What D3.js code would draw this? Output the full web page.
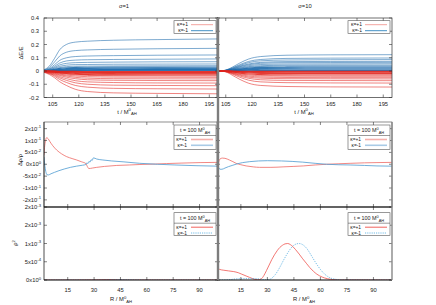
<!DOCTYPE html>
<html><head><meta charset="utf-8">
<script src="https://cdn.jsdelivr.net/npm/d3@7"></script>
<style>body{margin:0;background:#fff}svg{display:block}text{font-family:"Liberation Sans",Arial,sans-serif;fill:#222}</style>
</head><body><svg id="c" width="436" height="305"></svg>
<script>
// ---------- DATA ----------
const tSamples = [100,103,106,109,113,118,125,140,165,200];
// sigma = 1, kappa = -1 (blue) energy curves
const s1Blue = [
 [0.010,0.036,0.094,0.160,0.201,0.218,0.225,0.232,0.237,0.242],
 [0.007,0.026,0.067,0.113,0.142,0.154,0.159,0.164,0.168,0.171],
 [0.005,0.018,0.047,0.080,0.100,0.109,0.113,0.116,0.119,0.121],
 [0.004,0.014,0.035,0.060,0.076,0.082,0.085,0.087,0.089,0.091],
 [0.003,0.011,0.027,0.046,0.058,0.063,0.065,0.067,0.069,0.070],
 [0.002,0.008,0.021,0.035,0.044,0.048,0.049,0.051,0.052,0.053],
 [0.002,0.006,0.016,0.026,0.033,0.036,0.037,0.038,0.039,0.040],
 [0.001,0.005,0.012,0.020,0.025,0.027,0.028,0.029,0.029,0.030],
 [0.001,0.003,0.009,0.015,0.018,0.020,0.020,0.021,0.022,0.022],
 [0.001,0.002,0.006,0.011,0.013,0.014,0.015,0.015,0.016,0.016],
 [0.000,0.002,0.004,0.007,0.009,0.010,0.010,0.011,0.011,0.011],
 [0.000,0.001,0.003,0.005,0.006,0.006,0.007,0.007,0.007,0.007],
 [0.000,0.001,0.002,0.003,0.003,0.004,0.004,0.004,0.004,0.004]
];
// sigma = 1, kappa = +1 (red)
const s1Red = [
 [-0.010,-0.026,-0.050,-0.081,-0.110,-0.138,-0.155,-0.165,-0.169,-0.172],
 [-0.008,-0.020,-0.039,-0.064,-0.087,-0.109,-0.122,-0.131,-0.134,-0.136],
 [-0.007,-0.017,-0.032,-0.052,-0.071,-0.089,-0.100,-0.107,-0.109,-0.111],
 [-0.005,-0.014,-0.026,-0.043,-0.058,-0.073,-0.082,-0.087,-0.090,-0.091],
 [-0.004,-0.011,-0.021,-0.034,-0.047,-0.058,-0.066,-0.070,-0.072,-0.073],
 [-0.004,-0.009,-0.017,-0.028,-0.038,-0.048,-0.054,-0.058,-0.059,-0.060],
 [-0.003,-0.007,-0.014,-0.023,-0.031,-0.038,-0.043,-0.046,-0.047,-0.048],
 [-0.002,-0.006,-0.011,-0.018,-0.024,-0.030,-0.034,-0.036,-0.037,-0.038],
 [-0.002,-0.005,-0.009,-0.014,-0.019,-0.024,-0.027,-0.029,-0.030,-0.030],
 [-0.001,-0.003,-0.007,-0.011,-0.015,-0.018,-0.021,-0.022,-0.023,-0.023],
 [-0.001,-0.003,-0.005,-0.008,-0.011,-0.014,-0.015,-0.016,-0.017,-0.017],
 [-0.001,-0.002,-0.003,-0.006,-0.008,-0.010,-0.011,-0.012,-0.012,-0.012],
 [0.000,-0.001,-0.002,-0.004,-0.005,-0.006,-0.007,-0.008,-0.008,-0.008],
 [0.000,-0.001,-0.001,-0.002,-0.003,-0.003,-0.004,-0.004,-0.004,-0.004]
];
// sigma = 10, kappa = -1 (blue)
const s10Blue = [
 [0.005,0.002,0.012,0.031,0.060,0.090,0.109,0.119,0.122,0.123],
 [0.004,0.002,0.010,0.025,0.048,0.072,0.087,0.095,0.097,0.098],
 [0.003,0.002,0.009,0.022,0.042,0.063,0.077,0.083,0.085,0.086],
 [0.003,0.001,0.007,0.018,0.036,0.053,0.065,0.071,0.072,0.073],
 [0.003,0.001,0.007,0.016,0.032,0.047,0.058,0.063,0.064,0.065],
 [0.002,0.001,0.006,0.014,0.027,0.040,0.049,0.053,0.054,0.055],
 [0.002,0.001,0.005,0.011,0.022,0.033,0.040,0.044,0.045,0.045],
 [0.002,0.001,0.004,0.010,0.019,0.028,0.034,0.037,0.038,0.038],
 [0.001,0.001,0.003,0.008,0.015,0.022,0.027,0.029,0.030,0.030],
 [0.001,0.000,0.002,0.006,0.011,0.017,0.020,0.022,0.023,0.023],
 [0.001,0.000,0.002,0.004,0.007,0.011,0.013,0.015,0.015,0.015],
 [0.000,0.000,0.001,0.002,0.004,0.006,0.007,0.008,0.008,0.008],
 [0.000,0.000,0.000,0.001,0.001,0.002,0.003,0.003,0.003,0.003]
];
// sigma = 10, kappa = +1 (red)
const s10Red = [
 [-0.005,-0.002,-0.012,-0.034,-0.063,-0.092,-0.109,-0.117,-0.120,-0.121],
 [-0.004,-0.002,-0.009,-0.025,-0.047,-0.069,-0.082,-0.088,-0.090,-0.091],
 [-0.003,-0.001,-0.007,-0.020,-0.038,-0.055,-0.066,-0.071,-0.072,-0.073],
 [-0.002,-0.001,-0.006,-0.017,-0.031,-0.046,-0.054,-0.058,-0.059,-0.060],
 [-0.002,-0.001,-0.005,-0.014,-0.026,-0.038,-0.045,-0.049,-0.050,-0.050],
 [-0.002,-0.001,-0.004,-0.011,-0.021,-0.030,-0.036,-0.039,-0.040,-0.040],
 [-0.001,-0.001,-0.003,-0.008,-0.016,-0.023,-0.027,-0.029,-0.030,-0.030],
 [-0.001,0.000,-0.002,-0.006,-0.010,-0.015,-0.018,-0.019,-0.020,-0.020],
 [-0.001,0.000,-0.001,-0.004,-0.007,-0.010,-0.012,-0.013,-0.013,-0.013],
 [0.000,0.000,-0.001,-0.002,-0.004,-0.005,-0.006,-0.007,-0.007,-0.007],
 [0.000,0.000,0.000,-0.001,-0.002,-0.002,-0.003,-0.003,-0.003,-0.003]
];
// density contrast at t = 100
const rhoS1RedR = [1.5,1.8,2.4,3.0,3.8,4.9,6.5,8.7,11.5,14.4,17.5,20.1,23,25.3,26.2,27.0,29,31.5,36,42.9,50,56.1,65,71.3,80,90.3,100.5];
const rhoS1RedV = [0.04,0.07,0.1,0.112,0.108,0.095,0.078,0.06,0.044,0.032,0.024,0.018,0.01,0.003,-0.01,-0.018,-0.016,-0.013,-0.009,-0.005,-0.003,-0.001,0.001,0.003,0.005,0.007,0.008];
const rhoS1BlueR = [1.5,1.9,2.5,3.2,4.0,5.5,7.5,10,13,16.5,20,23.5,25.3,25.9,26.5,27.1,27.7,28.3,28.9,29.6,31.5,35,40,47,56,66,76,88,100.5];
const rhoS1BlueV = [0.03,0.0,-0.03,-0.044,-0.045,-0.04,-0.034,-0.027,-0.02,-0.013,-0.008,-0.004,-0.001,0.006,0.003,0.012,0.009,0.019,0.016,0.027,0.022,0.018,0.014,0.01,0.004,0.000,-0.003,-0.006,-0.008];
const rhoS10RedR = [1.5,1.7,2.0,2.5,3.2,4.5,6,8.5,10.5,12.3,15,18,22,25.6,32,38.9,45,50.3,57,63.5,70,76.8,85,92,100.5];
const rhoS10RedV = [-0.11,-0.07,-0.02,0.01,0.022,0.026,0.025,0.018,0.011,0.004,-0.002,-0.007,-0.011,-0.013,-0.013,-0.011,-0.009,-0.007,-0.003,0.000,0.002,0.004,0.006,0.007,0.008];
const rhoS10BlueR = [1.5,1.7,2.0,2.5,3.2,4.3,6,8,10.5,13,16,20,25,30,38,44,50,57,63.5,70,76.8,85,92,100.5];
const rhoS10BlueV = [0.09,0.05,0.005,-0.015,-0.021,-0.021,-0.016,-0.01,-0.004,0.002,0.007,0.011,0.014,0.015,0.014,0.012,0.009,0.004,0.000,-0.002,-0.003,-0.005,-0.007,-0.008];
// squared field at t = 100
const sqS1RedR = [1.5,20,30,34,37,40,44,50,100.5];
const sqS1RedV = [0,0,0.000004,0.000009,0.000012,0.000010,0.000005,0,0];
const sqS1BlueR = [1.5,28,38,42,45,48,52,58,100.5];
const sqS1BlueV = [0,0,0.000004,0.000009,0.000012,0.000010,0.000005,0,0];
const sqS10RedR = [1.5,3,5,8,11,13.5,15.5,18,20,22.5,24.5,26.5,28,29.5,31,32.5,34,35.5,37,38.5,40,41.5,43,44.5,46,48,50,52,54,56,58,61,64,67,70,100.5];
const sqS10RedV = [3.3e-4,2.9e-4,2.7e-4,2.5e-4,2.3e-4,2.0e-4,1.6e-4,1.1e-4,0.7e-4,0.25e-4,0.05e-4,0.3e-4,1.2e-4,2.6e-4,4.1e-4,5.6e-4,6.9e-4,8.0e-4,8.9e-4,9.5e-4,9.9e-4,10.0e-4,9.7e-4,9.1e-4,8.3e-4,7.1e-4,5.8e-4,4.6e-4,3.4e-4,2.4e-4,1.6e-4,0.8e-4,0.35e-4,0.12e-4,0.03e-4,0];
const sqS10BlueR = [1.5,5,9,11,15,20,24,27,29.5,31.5,33,34.5,36,37.5,39,40.5,42,43.5,45,46.5,48,49.5,51,52.5,54,55.5,57,58.5,60,62,64,66,68.5,72,100.5];
const sqS10BlueV = [0,0.02e-4,0.1e-4,0.25e-4,0.35e-4,0.4e-4,0.35e-4,0.15e-4,0.05e-4,0.2e-4,0.7e-4,1.5e-4,2.6e-4,3.9e-4,5.3e-4,6.6e-4,7.8e-4,8.8e-4,9.5e-4,9.9e-4,10.0e-4,9.8e-4,9.3e-4,8.5e-4,7.4e-4,6.2e-4,5.0e-4,3.9e-4,2.9e-4,1.8e-4,1.0e-4,0.5e-4,0.2e-4,0.03e-4,0];
// ticks and labels
const tTicks = [105,120,135,150,165,180,195];
const rTicks = [15,30,45,60,75,90];
const dETicks = [-0.2,-0.1,0,0.1,0.2,0.3,0.4];
const rhoTicks = [-0.15,-0.1,-0.05,0,0.05,0.1,0.15];
const sqTicks = [0,5e-4,1e-3,1.5e-3,2e-3];
const titles = ["σ=1","σ=10"];
const legendLabels = ["κ=+1","κ=-1"];

// ---------- LAYOUT ----------
const svg = d3.select("#c");
svg.append("rect").attr("width",436).attr("height",305).attr("fill","#fff");
const cols = [[44,218],[217,392]];
const rows = {top:[18,97.5], mid:[122,207], bot:[207,280]};
const FS = 5.8;
const C = {red:"#e2231c", blue:"#1a68aa"};

const xT = cols.map(c=>d3.scaleLinear().domain([100,200]).range(c));
const xR = cols.map(c=>d3.scaleLinear().domain([1.5,100.5]).range(c));
const yTop = d3.scaleLinear().domain([-0.2,0.4]).range([rows.top[1],rows.top[0]]);
const yMid = d3.scaleLinear().domain([-0.18,0.178]).range([rows.mid[1],rows.mid[0]]);
const yBot = d3.scaleLinear().domain([0,2e-3]).range([rows.bot[1],rows.bot[0]]);

function rich(sel, parts, fs){
  let cur=0;
  parts.forEach(p=>{
    const off = p.sup ? -fs*0.42 : (p.sub ? fs*0.3 : 0);
    const ts = sel.append("tspan").text(p.t).attr("dy",off-cur);
    if(p.sup||p.sub) ts.attr("font-size",fs*0.72);
    cur=off;
  });
}
function sci(v){
  if(v===0) return ["0","0"];
  const e=Math.floor(Math.log10(Math.abs(v))+1e-9);
  const m=+(v/Math.pow(10,e)).toFixed(6);
  return [String(Math.sign(m)*Math.round(Math.abs(m))), String(e)];
}
let clipId=0;
function clip(x0,x1,y0,y1){
  const id="cl"+(clipId++);
  svg.append("clipPath").attr("id",id).append("rect").attr("x",x0).attr("y",y0).attr("width",x1-x0).attr("height",y1-y0);
  return "url(#"+id+")";
}
function ticks(x, y, xt, yt, x0,x1,y0,y1){
  const g=svg.append("g").attr("stroke","#333").attr("stroke-width",0.6);
  xt.forEach(v=>{const px=x(v);
    g.append("line").attr("x1",px).attr("x2",px).attr("y1",y1).attr("y2",y1-3);
    g.append("line").attr("x1",px).attr("x2",px).attr("y1",y0).attr("y2",y0+3);});
  yt.forEach(v=>{const py=y(v);
    g.append("line").attr("x1",x0).attr("x2",x0+3).attr("y1",py).attr("y2",py);
    g.append("line").attr("x1",x1).attr("x2",x1-3).attr("y1",py).attr("y2",py);});
}

// ---------- TOP PANELS ----------
[[s1Blue,s1Red],[s10Blue,s10Red]].forEach((sets,i)=>{
  const [x0,x1]=cols[i], [y0,y1]=rows.top;
  const cp=clip(x0,x1,y0,y1);
  const g=svg.append("g").attr("clip-path",cp);
  const line=d3.line().x((d,k)=>xT[i](tSamples[k])).y(d=>yTop(d)).curve(d3.curveMonotoneX);
  const draw=(s,col)=>{const small=Math.abs(s[s.length-1])<0.032;
    g.append("path").attr("d",line(s)).attr("fill","none").attr("stroke",col)
     .attr("stroke-width",small?1.1:0.8).attr("stroke-opacity",small?0.85:0.7);};
  sets[0].forEach(s=>draw(s,C.blue));
  sets[1].forEach(s=>draw(s,C.red));
  svg.append("rect").attr("x",x0).attr("y",y0).attr("width",x1-x0).attr("height",y1-y0).attr("fill","none").attr("stroke","#333").attr("stroke-width",0.7);
  ticks(xT[i],yTop,tTicks,dETicks,x0,x1,y0,y1);
  tTicks.forEach(v=>svg.append("text").attr("x",xT[i](v)).attr("y",105.5).attr("text-anchor","middle").attr("font-size",FS).text(v));
  const xl=svg.append("text").attr("x",i?304:127).attr("y",113.5).attr("text-anchor","middle").attr("font-size",FS);
  rich(xl,[{t:"t / M"},{t:"0",sup:true},{t:"AH",sub:true}],FS);
  svg.append("text").attr("x",i?305:124).attr("y",7.5).attr("text-anchor","middle").attr("font-size",FS).text(titles[i]);
  // legend
  const bx=x1-44, by=20.7;
  svg.append("rect").attr("x",bx).attr("y",by).attr("width",42).attr("height",12.6).attr("fill","#fff").attr("stroke","#555").attr("stroke-width",0.6);
  [["#f29a94",0],["#2f86c0",1]].forEach(([col,k])=>{
    const yy=by+4+k*6;
    svg.append("text").attr("x",bx+14).attr("y",yy+1.7).attr("text-anchor","end").attr("font-size",5).text(legendLabels[k]);
    svg.append("line").attr("x1",bx+17).attr("x2",bx+39).attr("y1",yy).attr("y2",yy).attr("stroke",col).attr("stroke-width",0.9);
  });
});
dETicks.forEach(v=>svg.append("text").attr("x",39).attr("y",yTop(v)+2).attr("text-anchor","end").attr("font-size",FS).text(v===0?"0":v.toFixed(1)));
svg.append("text").attr("transform","translate(23,53) rotate(-90)").attr("text-anchor","middle").attr("font-size",FS).text("ΔE/E");

// ---------- MIDDLE & BOTTOM PANELS ----------
const midSets=[[[rhoS1RedR,rhoS1RedV],[rhoS1BlueR,rhoS1BlueV]],[[rhoS10RedR,rhoS10RedV],[rhoS10BlueR,rhoS10BlueV]]];
const botSets=[[[sqS1RedR,sqS1RedV],[sqS1BlueR,sqS1BlueV]],[[sqS10RedR,sqS10RedV],[sqS10BlueR,sqS10BlueV]]];
function legendT(bx,by,h,styles){
  svg.append("rect").attr("x",bx).attr("y",by).attr("width",42).attr("height",h).attr("fill","#fff").attr("stroke","#555").attr("stroke-width",0.6);
  const t=svg.append("text").attr("x",bx+21).attr("y",by+7.3).attr("text-anchor","middle").attr("font-size",5.4);
  rich(t,[{t:"t = 100 M"},{t:"0",sup:true},{t:"AH",sub:true}],5.4);
  svg.append("line").attr("x1",bx).attr("x2",bx+42).attr("y1",by+10.5).attr("y2",by+10.5).attr("stroke","#555").attr("stroke-width",0.6);
  styles.forEach((st,k)=>{
    const yy=by+14.5+k*5.8;
    svg.append("text").attr("x",bx+13).attr("y",yy+1.6).attr("text-anchor","end").attr("font-size",4.8).text(legendLabels[k]);
    const l=svg.append("line").attr("x1",bx+17).attr("x2",bx+39).attr("y1",yy).attr("y2",yy).attr("stroke",st[0]).attr("stroke-width",st[1]);
    if(st[2]) l.attr("stroke-dasharray",st[2]);
  });
}
[0,1].forEach(i=>{
  const [x0,x1]=cols[i];
  let [y0,y1]=rows.mid;
  let g=svg.append("g").attr("clip-path",clip(x0,x1,y0,y1));
  const lm=d3.line().x(d=>xR[i](d[0])).y(d=>yMid(d[1])).curve(d3.curveMonotoneX);
  [["#ee6a64"],["#4d9ad0"]].forEach(([col],k)=>{
    const [R,V]=midSets[i][k];
    g.append("path").attr("d",lm(R.map((r,j)=>[r,V[j]]))).attr("fill","none").attr("stroke",col).attr("stroke-width",0.8);
  });
  svg.append("rect").attr("x",x0).attr("y",y0).attr("width",x1-x0).attr("height",y1-y0).attr("fill","none").attr("stroke","#444").attr("stroke-width",0.6);
  ticks(xR[i],yMid,rTicks,rhoTicks,x0,x1,y0,y1);
  legendT(x1-44,125,24.5,[["#f5b0ab",1.6],["#a9cbe6",1.6]]);
  [y0,y1]=rows.bot;
  g=svg.append("g").attr("clip-path",clip(x0,x1,y0-1,y1));
  const lb=d3.line().x(d=>xR[i](d[0])).y(d=>yBot(d[1])).curve(d3.curveMonotoneX);
  [["#ef5550",null],["#5ab0e2","1.3,1.1"]].forEach(([col,da],k)=>{
    const [R,V]=botSets[i][k];
    const p=g.append("path").attr("d",lb(R.map((r,j)=>[r,V[j]]))).attr("fill","none").attr("stroke",col).attr("stroke-width",0.8);
    if(da) p.attr("stroke-dasharray",da);
  });
  ticks(xR[i],yBot,rTicks,sqTicks,x0,x1,y0,y1);
  rTicks.forEach(v=>svg.append("text").attr("x",xR[i](v)).attr("y",291.5).attr("text-anchor","middle").attr("font-size",FS).text(v));
  const xl=svg.append("text").attr("x",i?304:121).attr("y",301).attr("text-anchor","middle").attr("font-size",FS);
  rich(xl,[{t:"R / M"},{t:"0",sup:true},{t:"AH",sub:true}],FS);
  legendT(x1-44,212.7,22.6,[["#ef4f4a",0.9],["#62b4e4",0.9,"1.2,1"]]);
});
svg.append("line").attr("x1",44).attr("x2",392).attr("y1",207).attr("y2",207).attr("stroke","#000").attr("stroke-width",1.2);
svg.append("line").attr("x1",44).attr("x2",392).attr("y1",280).attr("y2",280).attr("stroke","#000").attr("stroke-width",1.2);
svg.append("line").attr("x1",44).attr("x2",44).attr("y1",122).attr("y2",280).attr("stroke","#222").attr("stroke-width",0.8);
svg.append("rect").attr("x",216.8).attr("y",18).attr("width",2.4).attr("height",262).attr("fill","#7d7d7d");
svg.append("line").attr("x1",392).attr("x2",392).attr("y1",122).attr("y2",280).attr("stroke","#888").attr("stroke-width",1.4);

function sciLabel(v,sc){
  const [m,e]=sci(v);
  const t=svg.append("text").attr("x",41).attr("y",sc(v)+2).attr("text-anchor","end").attr("font-size",FS);
  rich(t,[{t:m+"x10"},{t:e,sup:true}],FS);
}
rhoTicks.forEach(v=>sciLabel(v,yMid));
sqTicks.forEach(v=>sciLabel(v,yBot));
svg.append("text").attr("transform","translate(22,160) rotate(-90)").attr("text-anchor","middle").attr("font-size",FS).text("Δρ/ρ");
const yl=svg.append("text").attr("transform","translate(17,243) rotate(-90)").attr("text-anchor","middle").attr("font-size",FS);
rich(yl,[{t:"ρ"},{t:"2",sup:true}],FS);
</script></body></html>
